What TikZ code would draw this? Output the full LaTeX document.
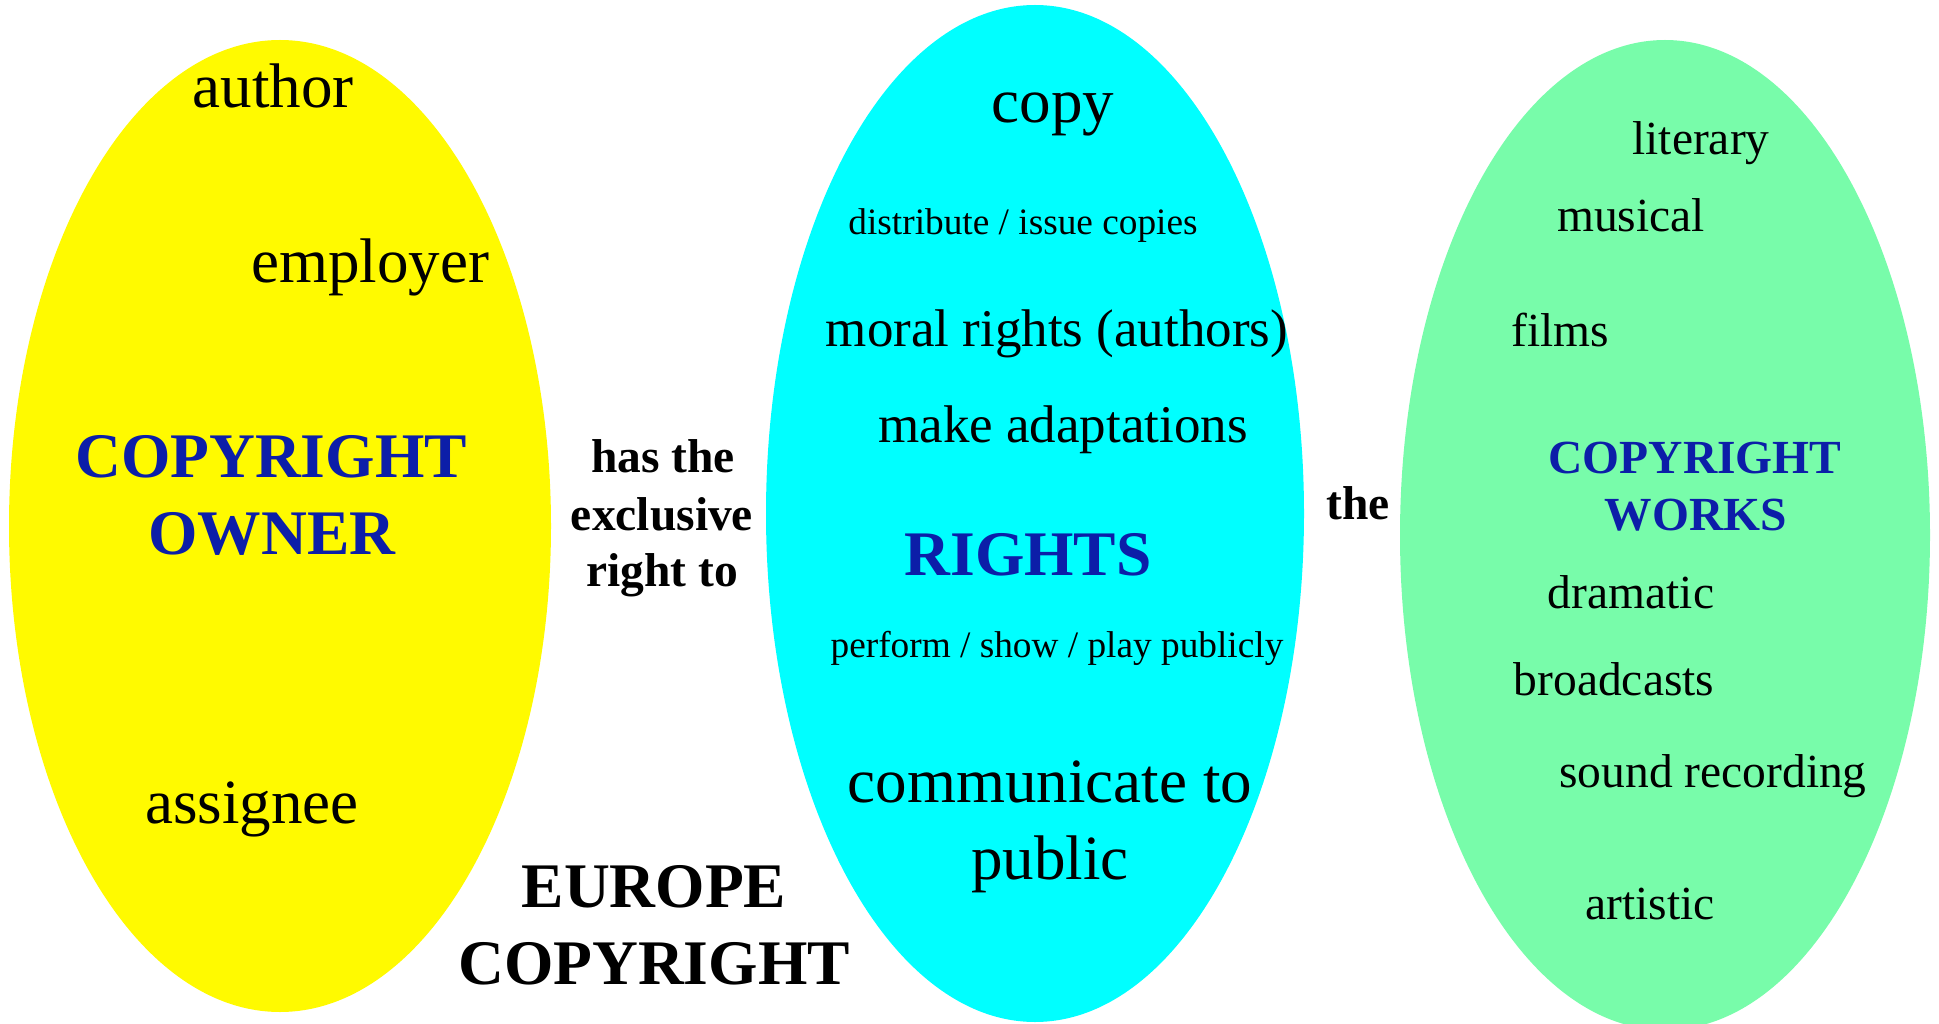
\documentclass[tikz,border=0pt]{standalone}
\usepackage{fontspec}
\setmainfont{Liberation Serif}
\usetikzlibrary{shapes.geometric}
\definecolor{ownerfill}{RGB}{255,250,0}
\definecolor{rightsfill}{RGB}{0,255,255}
\definecolor{worksfill}{RGB}{120,252,170}
\definecolor{titleblue}{RGB}{12,30,168}
\tikzset{
  blob/.style={ellipse, inner sep=0pt, draw=none},
  txt/.style={anchor=base, inner sep=0pt, text=black},
  big/.style={txt, font=\fontsize{63}{63}\selectfont},
  mid/.style={txt, font=\fontsize{53}{53}\selectfont},
  sml/.style={txt, font=\fontsize{47.5}{47.5}\selectfont},
  tiny/.style={txt, font=\fontsize{37.3}{37.3}\selectfont},
  bigtitle/.style={txt, font=\fontsize{63.5}{63.5}\selectfont\bfseries, text=titleblue},
  smltitle/.style={txt, font=\fontsize{47.5}{47.5}\selectfont\bfseries, text=titleblue},
  link/.style={txt, font=\fontsize{47.5}{47.5}\selectfont\bfseries},
  caption/.style={txt, font=\fontsize{63.5}{63.5}\selectfont\bfseries}
}
\begin{document}
\begin{tikzpicture}[x=1pt, y=-1pt]
\useasboundingbox (0,0) rectangle (1939,1024);
% ellipses
\node[blob, fill=ownerfill, minimum width=542pt, minimum height=972pt] (owner) at (280,526) {};
\node[blob, fill=rightsfill, minimum width=538pt, minimum height=1017pt] (rights) at (1035,513.5) {};
\node[blob, fill=worksfill, minimum width=530pt, minimum height=990pt] (works) at (1665,535) {};
% owner texts
\node[big] (author) at (273,108) {author};
\node[big] (employer) at (370,283) {employer};
\node[bigtitle] (ownertitleA) at (271,477) {COPYRIGHT};
\node[bigtitle] (ownertitleB) at (272,554) {OWNER};
\node[big] (assignee) at (252,823) {assignee};
% linking texts
\node[link] (hasA) at (663,472) {has the};
\node[link] (hasB) at (662,530) {exclusive};
\node[link] (hasC) at (662,586) {right to};
\node[link] (the) at (1358,519) {the};
\node[caption] (europe) at (654,907) {EUROPE};
\node[caption] (europeB) at (654,984) {COPYRIGHT};
% rights texts
\node[big] (copy) at (1053,123) {copy};
\node[tiny] (distribute) at (1023,235) {distribute / issue copies};
\node[mid] (moral) at (1057,347) {moral rights (authors)};
\node[mid] (adapt) at (1063,442) {make adaptations};
\node[bigtitle] (rightstitle) at (1028,575) {RIGHTS};
\node[tiny] (perform) at (1057,657) {perform / show / play publicly};
\node[big] (commA) at (1050,802) {communicate to};
\node[big] (commB) at (1050,879) {public};
% works texts
\node[sml] (literary) at (1701,155) {literary};
\node[sml] (musical) at (1631,232) {musical};
\node[sml] (films) at (1560,347) {films};
\node[smltitle] (workstitleA) at (1695,473) {COPYRIGHT};
\node[smltitle] (workstitleB) at (1696,530) {WORKS};
\node[sml] (dramatic) at (1631,608) {dramatic};
\node[sml] (broadcasts) at (1614,695) {broadcasts};
\node[sml] (sound) at (1713,787) {sound recording};
\node[sml] (artistic) at (1650,919) {artistic};
\end{tikzpicture}
\end{document}
